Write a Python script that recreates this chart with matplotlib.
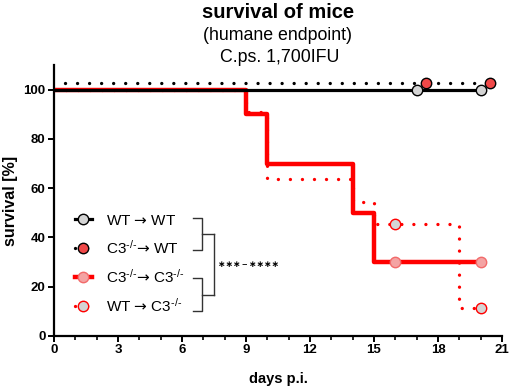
import matplotlib

matplotlib.use("Agg")
import matplotlib.pyplot as plt
from matplotlib.lines import Line2D
from matplotlib.ticker import MultipleLocator

# Kaplan-Meier steps (days post infection, survival %)
DAYS_WT_WT = [0, 20]
SURV_WT_WT = [100, 100]
CENS_WT_WT_X = [17, 20]
CENS_WT_WT_Y = [100, 100]

# shown with a small vertical offset, like the original
DAYS_C3_WT = [0.5, 20.45]
SURV_C3_WT = [102.5, 102.5]
CENS_C3_WT_X = [17.45, 20.45]
CENS_C3_WT_Y = [102.5, 102.5]

DAYS_C3_C3 = [0, 9, 10, 14, 15, 20]
SURV_C3_C3 = [100, 90, 70, 50, 30, 30]
CENS_C3_C3_X = [16, 20]
CENS_C3_C3_Y = [30, 30]

DAYS_WT_C3 = [0, 9, 10, 14, 15, 19, 20]
SURV_WT_C3 = [100, 90.9, 63.6, 54.5, 45.5, 11.4, 11.4]
CENS_WT_C3_X = [16, 20]
CENS_WT_C3_Y = [45.5, 11.4]

KO = r"C3$^{\text{-/-}}$"
ARROW = "$\\mathsf{\u2192}$"
LABELS = ["WT " + ARROW + " WT", KO + ARROW + " WT", KO + ARROW + " " + KO, "WT " + ARROW + " " + KO]
STATS_TEXT = "\u2217\u2217\u2217\u2009\u2013\u2009\u2217\u2217\u2217\u2217"

RED = "#FF0000"
GREY = "#D4D4D4"
PINK = "#F4A3A3"
PINK_EDGE = "#F26A6A"
RED_FILL = "#F04848"

plt.rcParams["font.family"] = ["Liberation Sans", "DejaVu Sans"]
plt.rcParams["mathtext.fontset"] = "custom"
plt.rcParams["mathtext.rm"] = "Liberation Sans"
plt.rcParams["mathtext.sf"] = "DejaVu Sans"
plt.rcParams["mathtext.default"] = "regular"

DOT = (0, (0.01, 3.6))

fig = plt.figure(figsize=(5.1, 3.89), dpi=100)
ax = fig.add_axes([54 / 510, 53 / 389, 448 / 510, 271 / 389])

# red solid: C3-/- -> C3-/-
ax.step(DAYS_C3_C3, SURV_C3_C3, where="post", color=RED, lw=3.2, zorder=2)
ax.plot(CENS_C3_C3_X, CENS_C3_C3_Y, ls="none", marker="o", ms=7.5,
        mfc=PINK, mec=PINK_EDGE, mew=1.0, zorder=5)

# red dotted: WT -> C3-/-
ax.step(DAYS_WT_C3, SURV_WT_C3, where="post", color=RED, lw=2.4,
        ls=DOT, dash_capstyle="round", zorder=3)
ax.plot(CENS_WT_C3_X, CENS_WT_C3_Y, ls="none", marker="o", ms=7.5,
        mfc=GREY, mec=RED, mew=1.0, zorder=5)

# black solid: WT -> WT
ax.step(DAYS_WT_WT, SURV_WT_WT, where="post", color="black", lw=2.3, zorder=4)
ax.plot(CENS_WT_WT_X, CENS_WT_WT_Y, ls="none", marker="o", ms=7.5,
        mfc=GREY, mec="black", mew=1.0, zorder=6)

# black dotted: C3-/- -> WT
ax.step(DAYS_C3_WT, SURV_C3_WT, where="post", color="black", lw=2.4,
        ls=DOT, dash_capstyle="round", zorder=4)
ax.plot(CENS_C3_WT_X, CENS_C3_WT_Y, ls="none", marker="o", ms=7.5,
        mfc=RED_FILL, mec="black", mew=1.0, zorder=7)

handles = [
    Line2D([], [], color="black", lw=2.3, marker="o", ms=7.5, mfc=GREY, mec="black"),
    Line2D([], [], color="black", lw=2.4, ls=DOT, dash_capstyle="round",
           marker="o", ms=7.5, mfc=RED_FILL, mec="black"),
    Line2D([], [], color=RED, lw=3.2, marker="o", ms=7.5, mfc=PINK, mec=PINK_EDGE),
    Line2D([], [], color=RED, lw=2.4, ls=DOT, dash_capstyle="round",
           marker="o", ms=7.5, mfc=GREY, mec=RED),
]
leg = ax.legend(handles, LABELS, loc="upper left", bbox_to_anchor=(0.03, 0.48),
                frameon=False, fontsize=11, handlelength=1.1, handletextpad=0.9,
                labelspacing=0.72, borderpad=0)

# significance bracket
bx0, bx1, bx2 = 6.52, 6.94, 7.5
for top, bot in [(47.8, 34.9), (23.6, 10.0)]:
    ax.plot([bx0, bx1, bx1, bx0], [top, top, bot, bot], color="#333333", lw=1.0)
    ax.plot([bx1, bx2], [(top + bot) / 2, (top + bot) / 2], color="#333333", lw=1.0)
ax.plot([bx2, bx2], [(47.8 + 34.9) / 2, (23.6 + 10.0) / 2], color="#333333", lw=1.0)
ax.text(bx2 + 0.2, 28.9, STATS_TEXT, fontsize=6.5, fontweight="bold", va="center", ha="left")

ax.set_xlim(0, 21)
ax.set_ylim(0, 110)
ax.xaxis.set_major_locator(MultipleLocator(3))
ax.xaxis.set_minor_locator(MultipleLocator(1))
ax.set_yticks([0, 20, 40, 60, 80, 100])
for side in ["top", "right"]:
    ax.spines[side].set_visible(False)
for side in ["left", "bottom"]:
    ax.spines[side].set_linewidth(1.6)
ax.tick_params(which="major", length=4, width=1.4, labelsize=9.5, pad=2)
ax.tick_params(which="minor", length=3, width=1.2)
for lab in ax.get_xticklabels() + ax.get_yticklabels():
    lab.set_fontweight("bold")

ax.set_xlabel("days p.i.", fontsize=10.5, fontweight="bold", labelpad=11)
ax.set_ylabel("survival [%]", fontsize=11.5, fontweight="bold", labelpad=4)

fig.text(278 / 510, 1 - 12 / 389, "survival of mice", fontsize=14.5, fontweight="bold",
         ha="center", va="center")
fig.text(278 / 510, 1 - 35 / 389, "(humane endpoint)", fontsize=12.8, ha="center", va="center")
fig.text(280 / 510, 1 - 57 / 389, "C.ps. 1,700IFU", fontsize=12.8, ha="center", va="center")

fig.savefig("out.png", dpi=100)
